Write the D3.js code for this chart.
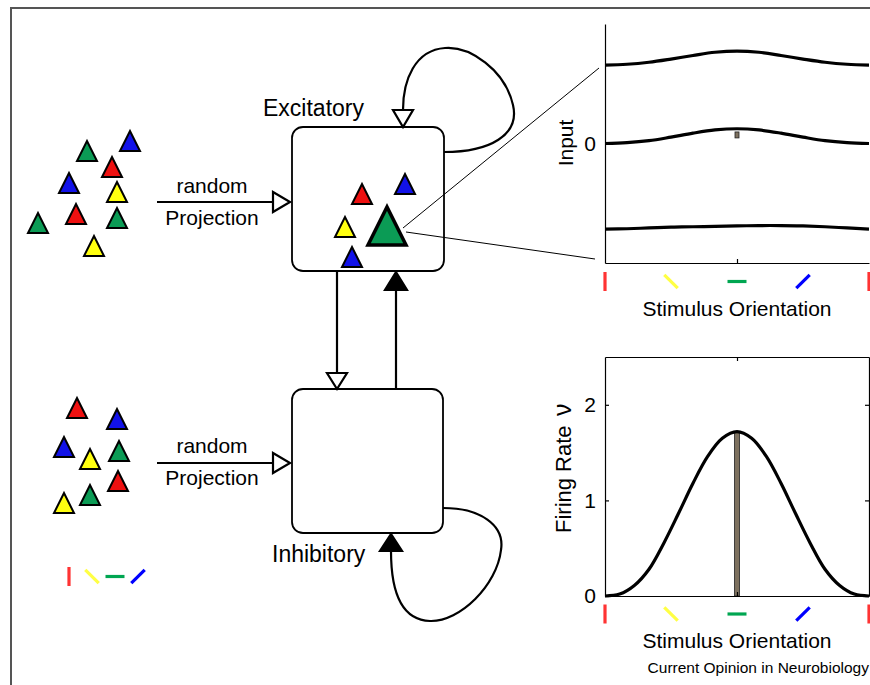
<!DOCTYPE html>
<html>
<head>
<meta charset="utf-8">
<script src="https://cdn.jsdelivr.net/npm/d3@7"></script>
<style>
  body { margin: 0; background: #fff; }
  text { font-family: "Liberation Sans", Arial, sans-serif; fill: #000; }
</style>
</head>
<body>
<script>
// orientations (deg), 0 = horizontal
var orientations = [-90, -45, 0, 45, 90];
var orientColors = ["red", "yellow", "green", "blue", "red"];

// input curves (top panel), sampled every 15 deg
var inputX = [-90, -75, -60, -45, -30, -15, 0, 15, 30, 45, 60, 75, 90];
var inputExc = [1.97, 1.99, 2.04, 2.12, 2.21, 2.29, 2.32, 2.29, 2.21, 2.12, 2.04, 1.99, 1.97];
var inputNet = [0.0, 0.02, 0.07, 0.16, 0.26, 0.34, 0.37, 0.34, 0.26, 0.16, 0.07, 0.02, 0.0];
var inputInh = [-2.15, -2.14, -2.12, -2.1, -2.09, -2.08, -2.07, -2.06, -2.06, -2.07, -2.09, -2.12, -2.15];
var inputMarker = [0.14, 0.29];

// firing rate (bottom panel), every 10 deg
var rateX = [-90, -80, -70, -60, -50, -40, -30, -20, -10, 0, 10, 20, 30, 40, 50, 60, 70, 80, 90];
var rateY = [0, 0.02, 0.11, 0.28, 0.55, 0.86, 1.18, 1.46, 1.65, 1.72, 1.65, 1.46, 1.18, 0.86, 0.55, 0.28, 0.11, 0.02, 0];
var rateTicks = [0, 1, 2];

// diagram cells: [x, baseY, colour]
var excInputCells = [[87,161,"green"],[130,151,"blue"],[112,177,"red"],[69,193,"blue"],[117,202,"yellow"],
  [76,224,"red"],[117,228,"green"],[38,233,"green"],[94,256,"yellow"]];
var inhInputCells = [[77,418,"red"],[117,429,"blue"],[64,457,"blue"],[119,461,"green"],[90,469,"yellow"],
  [118,491,"red"],[90,505,"green"],[64,513,"yellow"]];
var excBoxCells = [[362,204,"red"],[405,194,"blue"],[345,237,"yellow"],[352,267,"blue"]];

var cellFill = { red: "#ee1111", blue: "#1212e8", green: "#0b9b55", yellow: "#ffff10" };
var barColor = { red: "#ff3333", blue: "#0000ff", green: "#00a651", yellow: "#ffff44" };

var svg = d3.select("body").append("svg")
    .attr("width", 870)
    .attr("height", 685);

svg.append("rect").attr("width", 870).attr("height", 685).attr("fill", "#fff");

// outer frame
svg.append("rect")
    .attr("x", 11).attr("y", 8)
    .attr("width", 880).attr("height", 700)
    .attr("fill", "none")
    .attr("stroke", "#555")
    .attr("stroke-width", 2);

function tri(g, cx, by, half, h, fill, sw) {
    g.append("path")
        .attr("d", "M" + (cx - half) + "," + by + "L" + (cx + half) + "," + by + "L" + cx + "," + (by - h) + "Z")
        .attr("fill", fill)
        .attr("stroke", "#000")
        .attr("stroke-width", sw)
        .attr("stroke-linejoin", "miter");
}

var cells = svg.append("g");
excInputCells.concat(inhInputCells).concat(excBoxCells).forEach(function (c) {
    tri(cells, c[0], c[1], 10, 20, cellFill[c[2]], 2);
});

// boxes
svg.append("rect").attr("x", 292).attr("y", 127).attr("width", 152).attr("height", 144)
    .attr("rx", 11).attr("fill", "none").attr("stroke", "#000").attr("stroke-width", 1.8);
svg.append("rect").attr("x", 292).attr("y", 389).attr("width", 151).attr("height", 144)
    .attr("rx", 11).attr("fill", "none").attr("stroke", "#000").attr("stroke-width", 1.8);

// big green cell + zoom lines
svg.append("line").attr("x1", 403).attr("y1", 228).attr("x2", 599).attr("y2", 68)
    .attr("stroke", "#000").attr("stroke-width", 1);
svg.append("line").attr("x1", 406).attr("y1", 232).attr("x2", 595).attr("y2", 259)
    .attr("stroke", "#000").attr("stroke-width", 1);
tri(svg, 387, 245, 19, 38, cellFill.green, 3.5);

var arrows = svg.append("g").attr("stroke", "#000").attr("stroke-width", 2.2).attr("fill", "none");

// random projections
[202, 463].forEach(function (y) {
    arrows.append("line").attr("x1", 157).attr("y1", y).attr("x2", 273).attr("y2", y);
    arrows.append("path").attr("d", "M273," + (y - 10) + "L273," + (y + 10) + "L290," + y + "Z").attr("fill", "#fff");
});

// excitatory self loop
arrows.append("path").attr("d", "M444,152 C490,152 520,135 513,105 C505,70 470,46 445,48 C415,50 403,80 403,110");
arrows.append("path").attr("d", "M393,110L413,110L403,127Z").attr("fill", "#fff");

// exc -> inh
arrows.append("line").attr("x1", 337).attr("y1", 271).attr("x2", 337).attr("y2", 373);
arrows.append("path").attr("d", "M327,373L347,373L337,389Z").attr("fill", "#fff");

// inh -> exc
arrows.append("line").attr("x1", 396).attr("y1", 389).attr("x2", 396).attr("y2", 290);
arrows.append("path").attr("d", "M385,290L407,290L396,272Z").attr("fill", "#000");

// inhibitory self loop
arrows.append("path").attr("d", "M443,508 C480,508 505,525 501,550 C497,585 460,622 430,621 C400,620 391,590 391,551");
arrows.append("path").attr("d", "M380,551L402,551L391,534Z").attr("fill", "#000");

// diagram labels
svg.append("text").attr("x", 263).attr("y", 116).style("font-size", "23px").text("Excitatory");
svg.append("text").attr("x", 272).attr("y", 562).style("font-size", "23px").text("Inhibitory");
[[193, 225], [453, 485]].forEach(function (b) {
    svg.append("text").attr("x", 212).attr("y", b[0]).attr("text-anchor", "middle").style("font-size", "21px").text("random");
    svg.append("text").attr("x", 212).attr("y", b[1]).attr("text-anchor", "middle").style("font-size", "21px").text("Projection");
});

// orientation glyph bars
function orientBars(g, xs, yc, list, len) {
    list.forEach(function (o, i) {
        var a = o * Math.PI / 180;
        var dx = Math.cos(a) * len / 2, dy = -Math.sin(a) * len / 2;
        g.append("line")
            .attr("x1", xs(o) - dx).attr("y1", yc - dy)
            .attr("x2", xs(o) + dx).attr("y2", yc + dy)
            .attr("stroke", barColor[orientColors[i]])
            .attr("stroke-width", 3.2);
    });
}

var legendX = d3.scaleLinear().domain([-90, 45]).range([69, 138]);
orientBars(svg, legendX, 576.5, orientations.slice(0, 4), 19);

// ---- top panel: input ----
var x = d3.scaleLinear().domain([-90, 90]).range([605, 869]);
var yTop = d3.scaleLinear().domain([-3, 3]).range([263, 24]);

var line = d3.line()
    .x(function (d) { return x(d[0]); })
    .y(function (d) { return d[1]; })
    .curve(d3.curveCatmullRom);

[inputExc, inputNet, inputInh].forEach(function (s) {
    svg.append("path")
        .datum(inputX.map(function (v, i) { return [v, yTop(s[i])]; }))
        .attr("d", line)
        .attr("fill", "none")
        .attr("stroke", "#000")
        .attr("stroke-width", 3.2);
});

svg.append("rect")
    .attr("x", x(0) - 2).attr("y", yTop(inputMarker[1]))
    .attr("width", 4).attr("height", yTop(inputMarker[0]) - yTop(inputMarker[1]))
    .attr("fill", "#7d715f").attr("stroke", "#222").attr("stroke-width", 0.8);

var fmt = d3.format("d");

svg.append("g").attr("transform", "translate(605,0)")
    .call(d3.axisLeft(yTop).tickValues([0]).tickFormat(fmt).tickSizeInner(-5).tickSizeOuter(0).tickPadding(9));
svg.append("g").attr("transform", "translate(0,263)")
    .call(d3.axisBottom(x).tickValues([0]).tickSizeInner(-4).tickSizeOuter(0).tickFormat(""));

svg.append("text")
    .attr("transform", "translate(573,143) rotate(-90)")
    .attr("text-anchor", "middle")
    .style("font-size", "21px")
    .text("Input");

orientBars(svg, x, 281.5, orientations, 19);

svg.append("text").attr("x", 737).attr("y", 316).attr("text-anchor", "middle")
    .style("font-size", "21px").text("Stimulus Orientation");

// ---- bottom panel: firing rate ----
var yBot = d3.scaleLinear().domain([0, 2.5]).range([596, 357]);

svg.append("rect")
    .attr("x", x(0) - 2.5).attr("y", yBot(rateY[9]))
    .attr("width", 5).attr("height", yBot(0) - yBot(rateY[9]))
    .attr("fill", "#7d715f").attr("stroke", "#222").attr("stroke-width", 0.8);

svg.append("path")
    .datum(rateX.map(function (v, i) { return [v, yBot(rateY[i])]; }))
    .attr("d", line)
    .attr("fill", "none")
    .attr("stroke", "#000")
    .attr("stroke-width", 3.2);

svg.append("g").attr("transform", "translate(605,0)")
    .call(d3.axisLeft(yBot).tickValues(rateTicks).tickFormat(fmt).tickSizeInner(-4).tickSizeOuter(0).tickPadding(9));
svg.append("g").attr("transform", "translate(869,0)")
    .call(d3.axisRight(yBot).tickValues(rateTicks).tickSizeInner(-4).tickSizeOuter(0).tickFormat(""));
svg.append("g").attr("transform", "translate(0,596)")
    .call(d3.axisBottom(x).tickValues([0]).tickSizeInner(-4).tickSizeOuter(0).tickFormat(""));
svg.append("g").attr("transform", "translate(0,357)")
    .call(d3.axisTop(x).tickValues([0]).tickSizeInner(-4).tickSizeOuter(0).tickFormat(""));

svg.selectAll(".tick text").style("font-size", "21px").style("font-family", "Liberation Sans, Arial, sans-serif");
svg.selectAll(".domain, .tick line").attr("stroke-width", 1.2);

svg.append("text")
    .attr("transform", "translate(571,533) rotate(-90)")
    .style("font-size", "22px")
    .text("Firing Rate");
svg.append("text")
    .attr("transform", "translate(571,416) rotate(-90)")
    .style("font-size", "25px")
    .text("ν");

orientBars(svg, x, 614, orientations, 19);

svg.append("text").attr("x", 737).attr("y", 648).attr("text-anchor", "middle")
    .style("font-size", "21px").text("Stimulus Orientation");
svg.append("text").attr("x", 869).attr("y", 673).attr("text-anchor", "end")
    .style("font-size", "15.5px").text("Current Opinion in Neurobiology");
</script>
</body>
</html>
